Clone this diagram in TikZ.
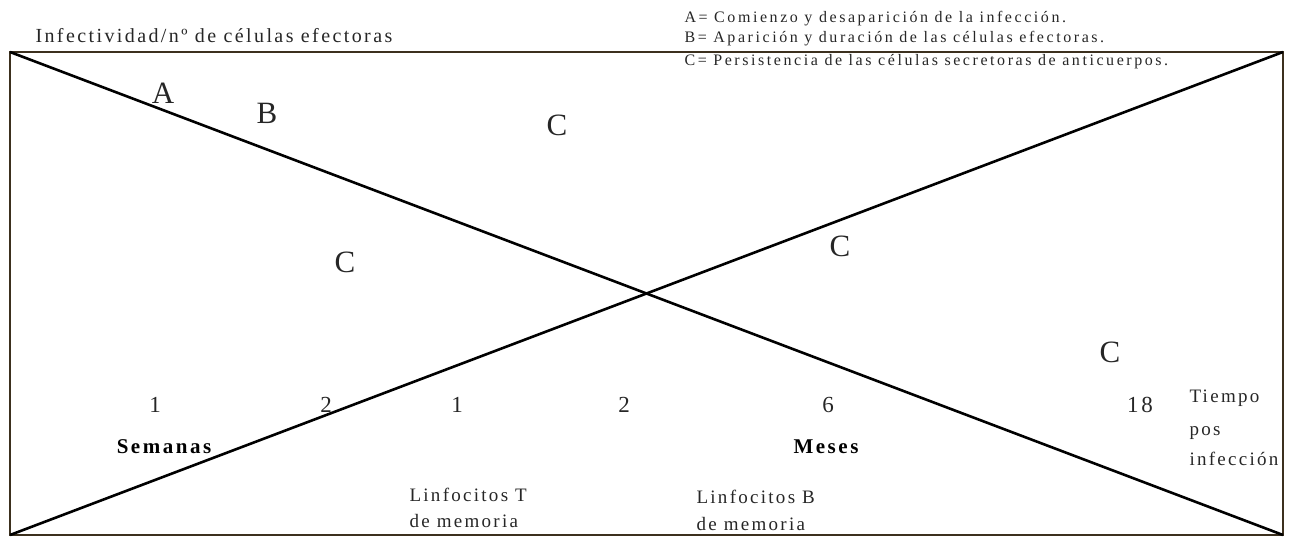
\documentclass[tikz,border=0pt]{standalone}
\usepackage{fontspec}
\setmainfont{Liberation Serif}
\newfontfamily\spacedfont[LetterSpace=12]{Liberation Serif}
\newfontfamily\legendfont[LetterSpace=16]{Liberation Serif}
\definecolor{framebrown}{RGB}{60,48,30}

\begin{document}
\begin{tikzpicture}[x=1pt,y=-1pt,
  frame/.style={draw=framebrown,line width=1.5pt},
  diag/.style={draw=black,line width=2.6pt},
  letter/.style={anchor=base,font=\fontsize{31}{31}\selectfont,text=black!85},
  num/.style={anchor=base,font=\spacedfont\fontsize{23}{23}\selectfont,text=black!85},
  axis/.style={anchor=base,font=\spacedfont\bfseries\fontsize{21}{21}\selectfont},
  lbl/.style={anchor=base west,font=\spacedfont\fontsize{19}{19}\selectfont,text=black!85},
  legend/.style={anchor=base west,font=\legendfont\fontsize{16}{16}\selectfont,text=black!85}]
\useasboundingbox (0,0) rectangle (1294,538);
\coordinate (TL) at (10,52); \coordinate (TR) at (1283,52);
\coordinate (BR) at (1283,535); \coordinate (BL) at (10,535);
% titulo y leyenda
\node[lbl,font=\spacedfont\fontsize{20}{20}\selectfont] (titulo) at (32,42) {Infectividad/nº de células efectoras};
\node[legend] (legA) at (681,22) {A= Comienzo y desaparición de la infección.};
\node[legend] (legB) at (681,42) {B= Aparición y duración de las células efectoras.};
\node[legend] (legC) at (681,65) {C= Persistencia de las células secretoras de anticuerpos.};
\draw[frame] (TL)--(TR)--(BR)--(BL)--cycle;
\draw[diag] (TL)--(BR);
\draw[diag] (BL)--(TR);
% letras
\node[letter] (a) at (163,103) {A};
\node[letter] (b) at (267,123) {B};
\node[letter] (c1) at (557,135) {C};
\node[letter] (c2) at (345,272) {C};
\node[letter] (c3) at (840,256) {C};
\node[letter] (c4) at (1110,362) {C};
% escala de tiempo
\node[num] (s1) at (155,412) {1};
\node[num] (s2) at (326,412) {2};
\node[num] (m1) at (457,412) {1};
\node[num] (m2) at (624,412) {2};
\node[num] (m6) at (828,412) {6};
\node[num] (m18) at (1140,412) {18};
\node[axis] (semanas) at (164,453) {Semanas};
\node[axis] (meses) at (826,453) {Meses};
\node[lbl] (t1) at (1186,402) {Tiempo};
\node[lbl] (t2) at (1186,435) {pos};
\node[lbl] (t3) at (1186,465) {infección};
\node[lbl] (lt1) at (406,501) {Linfocitos T};
\node[lbl] (lt2) at (406,527) {de memoria};
\node[lbl] (lb1) at (693,503) {Linfocitos B};
\node[lbl] (lb2) at (693,530) {de memoria};
\end{tikzpicture}
\end{document}
